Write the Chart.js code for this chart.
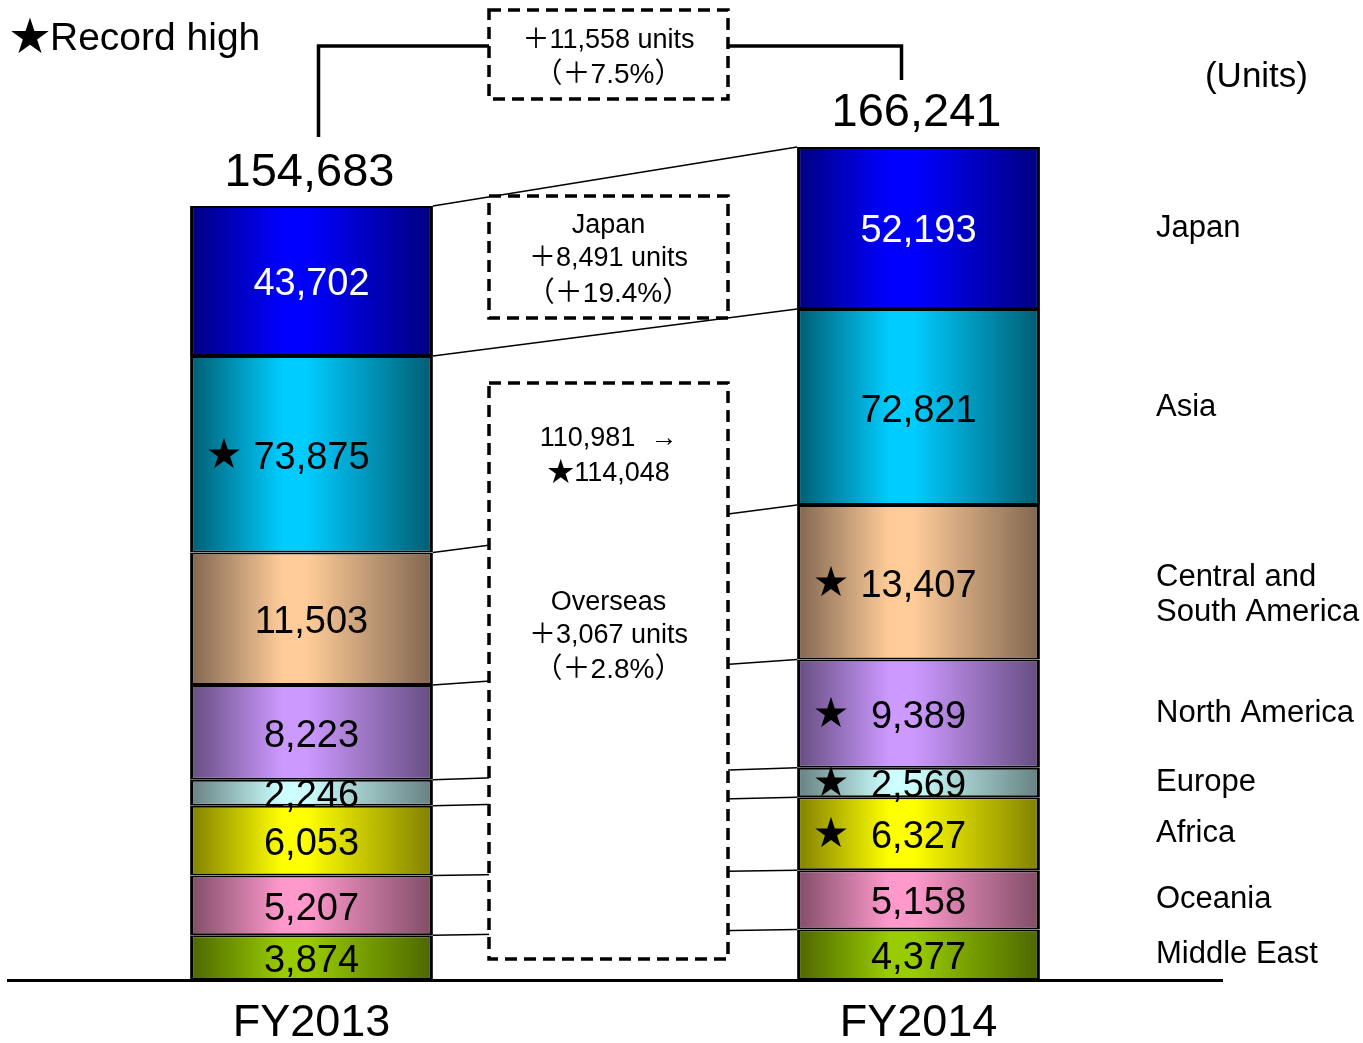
<!DOCTYPE html>
<html>
<head>
<meta charset="utf-8">
<script src="https://cdn.jsdelivr.net/npm/chart.js@4.4.0/dist/chart.umd.min.js"></script>
<style>
  html, body { margin: 0; padding: 0; background: #fff; }
</style>
</head>
<body>
<canvas id="sales-chart" width="1363" height="1043"></canvas>
<script>
// data, bottom of the stack first
const years = ['FY2013', 'FY2014'];
const regions = ['Middle East', 'Oceania', 'Africa', 'Europe', 'North America', 'Central and South America', 'Asia', 'Japan'];
const fy2013 = [3874, 5207, 6053, 2246, 8223, 11503, 73875, 43702];
const fy2014 = [4377, 5158, 6327, 2569, 9389, 13407, 72821, 52193];
const record2013 = [false, false, false, false, false, false, true, false];
const record2014 = [false, false, true, true, true, true, false, false];

const centerColors = ['#99cc00', '#ff99cc', '#ffff00', '#ccffff', '#cc99ff', '#ffcc99', '#00ccff', '#0000ff'];
const edgeColors = ['#4d6600', '#804d66', '#808000', '#668080', '#664d80', '#806650', '#005d72', '#000080'];
const FONT = '"Liberation Sans", "Noto Sans CJK JP", sans-serif';

const sum = a => a.reduce((s, v) => s + v, 0);
const total2013 = sum(fy2013);
const total2014 = sum(fy2014);
const overseas2013 = sum(fy2013.slice(0, 7));
const overseas2014 = sum(fy2014.slice(0, 7));
const fmt = n => n.toLocaleString('en-US');
const pct = (a, b) => ((b - a) / a * 100).toFixed(1);

// the slide squeezes the big Japan / Asia blocks, so the value axis has breaks
const axisBreaks = [
  [0, 0],
  [sum(fy2014.slice(0, 6)), 0.5702],
  [overseas2013, 0.7491],
  [overseas2014, 0.8055],
  [total2013, 0.9292],
  [total2014, 1]
];

function toDecimal(v) {
  for (let k = 1; k < axisBreaks.length; k++) {
    const [v0, d0] = axisBreaks[k - 1];
    const [v1, d1] = axisBreaks[k];
    if (v <= v1 || k === axisBreaks.length - 1) return d0 + (v - v0) / (v1 - v0) * (d1 - d0);
  }
}
function fromDecimal(d) {
  for (let k = 1; k < axisBreaks.length; k++) {
    const [v0, d0] = axisBreaks[k - 1];
    const [v1, d1] = axisBreaks[k];
    if (d <= d1 || k === axisBreaks.length - 1) return v0 + (d - d0) / (d1 - d0) * (v1 - v0);
  }
}

class BrokenScale extends Chart.LinearScale {
  static id = 'broken';
  getPixelForValue(value) {
    if (value === null || isNaN(value)) return NaN;
    return this.getPixelForDecimal(toDecimal(value));
  }
  getValueForPixel(pixel) {
    return fromDecimal(this.getDecimalForPixel(pixel));
  }
}
Chart.register(BrokenScale);

function barFill(c) {
  const chart = c.chart;
  const i = c.datasetIndex;
  const xs = chart.scales.x;
  if (!chart.chartArea || !xs) return centerColors[i];
  const cx = xs.getPixelForValue(c.dataIndex);
  const half = (xs.getPixelForValue(1) - xs.getPixelForValue(0)) * 0.2;
  const g = chart.ctx.createLinearGradient(cx - half, 0, cx + half, 0);
  g.addColorStop(0, edgeColors[i]);
  g.addColorStop(0.38, centerColors[i]);
  g.addColorStop(0.48, centerColors[i]);
  g.addColorStop(1, edgeColors[i]);
  return g;
}

// canvas 'middle' sits a little high for this font, nudge down
function text(ctx, str, x, y, size, color, align) {
  ctx.font = size + 'px ' + FONT;
  ctx.fillStyle = color || '#000';
  ctx.textAlign = align || 'center';
  ctx.textBaseline = 'middle';
  ctx.fillText(str, x, y + 3);
}

function dashedBox(ctx, x1, y1, x2, y2) {
  ctx.save();
  ctx.fillStyle = '#fff';
  ctx.fillRect(x1, y1, x2 - x1, y2 - y1);
  ctx.setLineDash([12, 7]);
  ctx.lineWidth = 3.5;
  ctx.strokeStyle = '#000';
  ctx.strokeRect(x1, y1, x2 - x1, y2 - y1);
  ctx.restore();
}

const overlay = {
  id: 'overlay',
  afterDatasetsDraw(chart) {
    const ctx = chart.ctx;
    const metas = regions.map((_, i) => chart.getDatasetMeta(i));
    const boxL = 489, boxR = 728, boxC = 608.5;

    // connector lines between the segment tops
    ctx.save();
    ctx.strokeStyle = '#000';
    ctx.lineWidth = 1.5;
    metas.forEach(m => {
      const a = m.data[0], b = m.data[1];
      ctx.beginPath();
      ctx.moveTo(a.x + a.width / 2, a.y);
      ctx.lineTo(b.x - b.width / 2, b.y);
      ctx.stroke();
    });
    ctx.restore();

    // dashed comment boxes
    dashedBox(ctx, boxL, 10, boxR, 99);
    dashedBox(ctx, boxL, 196, boxR, 318);
    dashedBox(ctx, boxL, 383, boxR, 959);

    const top = metas[metas.length - 1];
    const t13 = top.data[0], t14 = top.data[1];

    // bracket between the two totals
    ctx.save();
    ctx.strokeStyle = '#000';
    ctx.lineWidth = 3.5;
    ctx.beginPath();
    ctx.moveTo(t13.x + 7, t13.y - 69);
    ctx.lineTo(t13.x + 7, 46);
    ctx.lineTo(boxL, 46);
    ctx.moveTo(boxR, 46);
    ctx.lineTo(t14.x - 17, 46);
    ctx.lineTo(t14.x - 17, t14.y - 67);
    ctx.stroke();
    ctx.restore();

    text(ctx, '＋' + fmt(total2014 - total2013) + ' units', boxC, 38, 27);
    text(ctx, '（＋' + pct(total2013, total2014) + '%）', boxC, 72, 28);

    const j13 = fy2013[7], j14 = fy2014[7];
    text(ctx, 'Japan', boxC, 223, 27);
    text(ctx, '＋' + fmt(j14 - j13) + ' units', boxC, 256, 27);
    text(ctx, '（＋' + pct(j13, j14) + '%）', boxC, 291, 28);

    text(ctx, fmt(overseas2013) + '  →', boxC, 436, 27);
    text(ctx, '★' + fmt(overseas2014), boxC, 471, 27);
    text(ctx, 'Overseas', boxC, 600, 27);
    text(ctx, '＋' + fmt(overseas2014 - overseas2013) + ' units', boxC, 633, 27);
    text(ctx, '（＋' + pct(overseas2013, overseas2014) + '%）', boxC, 667, 28);

    // totals
    text(ctx, fmt(total2013), t13.x - 2, t13.y - 36, 47);
    text(ctx, fmt(total2014), t14.x - 2, t14.y - 37, 47);

    // values inside the segments
    metas.forEach((m, i) => {
      [fy2013[i], fy2014[i]].forEach((v, j) => {
        const el = m.data[j];
        const cy = (el.y + el.base) / 2 + 1;
        const color = i === regions.length - 1 ? '#fff' : '#000';
        text(ctx, fmt(v), el.x, cy, 38, color);
        const rec = j === 0 ? record2013[i] : record2014[i];
        if (rec) text(ctx, '★', el.x - el.width / 2 + 34, cy - 2, 34, '#000');
      });
    });

    // region names on the right
    metas.forEach((m, i) => {
      const el = m.data[1];
      const cy = (el.y + el.base) / 2;
      const name = regions[i];
      if (name === 'Central and South America') {
        text(ctx, 'Central and', 1156, cy - 8, 31, '#000', 'left');
        text(ctx, 'South America', 1156, cy + 27, 31, '#000', 'left');
      } else {
        text(ctx, name, 1156, cy - 3, 31, '#000', 'left');
      }
    });

    text(ctx, '(Units)', 1308, 74, 35, '#000', 'right');
    text(ctx, '★', 30, 36, 40, '#000');
    text(ctx, 'Record high', 50, 36, 39, '#000', 'left');
  }
};

new Chart(document.getElementById('sales-chart'), {
  type: 'bar',
  data: {
    labels: years,
    datasets: regions.map((name, i) => ({
      label: name,
      data: [fy2013[i], fy2014[i]],
      backgroundColor: barFill,
      borderColor: '#000',
      borderWidth: { top: 2, bottom: 2, left: 3, right: 3 },
      borderSkipped: false,
      barPercentage: 0.4,
      categoryPercentage: 1
    }))
  },
  options: {
    responsive: false,
    animation: false,
    events: [],
    layout: { padding: { left: 8, right: 141, top: 147, bottom: 0 } },
    plugins: {
      legend: { display: false },
      tooltip: { enabled: false }
    },
    scales: {
      x: {
        stacked: true,
        grid: { display: false, drawTicks: false },
        border: { display: true, color: '#000', width: 3 },
        ticks: { color: '#000', font: { family: FONT, size: 45 }, padding: 17 },
        afterFit: s => { s.height = 63; }
      },
      y: {
        type: 'broken',
        stacked: true,
        display: false,
        min: 0,
        max: total2014
      }
    }
  },
  plugins: [overlay]
});
</script>
</body>
</html>
